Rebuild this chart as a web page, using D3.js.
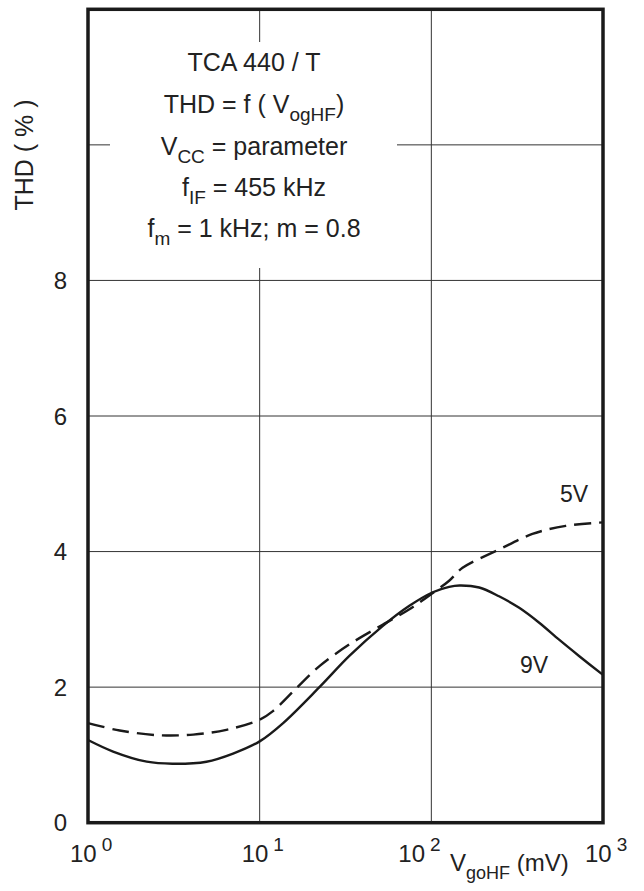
<!DOCTYPE html>
<html>
<head>
<meta charset="utf-8">
<script src="https://cdn.jsdelivr.net/npm/d3@7"></script>
<style>
  body { margin: 0; background: #fff; }
  svg { font-family: "Liberation Sans", Arial, sans-serif; fill: #222; }
  .grid { stroke: #333; stroke-width: 1; }
  .curve { fill: none; stroke: #1a1a1a; stroke-width: 2.4; }
</style>
</head>
<body>
<svg width="644" height="891"></svg>
<script>
// 9V curve (solid): input voltage in mV, THD in %
const v9 = [1, 1.4, 2.2, 3.1, 4.9, 7, 10, 13.7, 22.3, 33.3, 52, 74.5, 102, 127, 146, 190, 248, 325, 425, 555, 725, 1000];
const thd9 = [1.22, 1.05, 0.90, 0.87, 0.90, 1.02, 1.20, 1.47, 2.0, 2.46, 2.90, 3.20, 3.40, 3.48, 3.50, 3.47, 3.34, 3.17, 2.95, 2.70, 2.46, 2.18];

// 5V curve (dashed)
const v5 = [1, 1.53, 2.6, 4.1, 6.4, 10, 12, 16.3, 22.3, 33.3, 52, 74.5, 102, 127, 152, 248, 388, 607, 1000];
const thd5 = [1.47, 1.36, 1.29, 1.30, 1.37, 1.52, 1.65, 1.98, 2.31, 2.63, 2.92, 3.15, 3.39, 3.57, 3.76, 4.03, 4.26, 4.38, 4.43];

const yTicks = [0, 2, 4, 6, 8];
const yGrid = [2, 4, 6, 8, 10];
const xDecades = [1, 10, 100, 1000];
const xExp = ["0", "1", "2", "3"];

const svg = d3.select("svg");

const x = d3.scaleLog().domain([1, 1000]).range([88, 603]);
const y = d3.scaleLinear().domain([0, 12]).range([822.7, 9.3]);

// grid
svg.selectAll(".vgrid")
  .data([10, 100])
  .enter().append("line")
  .attr("class", "grid")
  .attr("x1", d => x(d)).attr("x2", d => x(d))
  .attr("y1", y(12)).attr("y2", y(0));

svg.selectAll(".hgrid")
  .data(yGrid)
  .enter().append("line")
  .attr("class", "grid")
  .attr("x1", x(1)).attr("x2", x(1000))
  .attr("y1", d => y(d)).attr("y2", d => y(d));

// white box behind the annotation
svg.append("rect")
  .attr("x", 110).attr("y", 42)
  .attr("width", 287).attr("height", 226)
  .attr("fill", "#fff");

// curves
const line = d3.line()
  .x(d => x(d[0]))
  .y(d => y(d[1]))
  .curve(d3.curveCatmullRom.alpha(0.5));

svg.append("path")
  .attr("class", "curve")
  .attr("d", line(d3.zip(v9, thd9)));

svg.append("path")
  .attr("class", "curve")
  .attr("stroke-dasharray", "17,8")
  .attr("d", line(d3.zip(v5, thd5)));

// frame
svg.append("rect")
  .attr("x", x(1)).attr("y", y(12))
  .attr("width", x(1000) - x(1)).attr("height", y(0) - y(12))
  .attr("fill", "none")
  .attr("stroke", "#1a1a1a")
  .attr("stroke-width", 3.5);

// y tick labels
svg.selectAll(".ylab")
  .data(yTicks)
  .enter().append("text")
  .attr("x", 67)
  .attr("y", d => y(d))
  .attr("dy", "0.36em")
  .attr("text-anchor", "end")
  .attr("font-size", 24)
  .text(d => d);

// x tick labels, 10^n
const xl = svg.selectAll(".xlab")
  .data(xDecades)
  .enter().append("text")
  .attr("x", (d, i) => x(d) - (i === 2 ? 33 : 18))
  .attr("y", 862)
  .attr("font-size", 24);
xl.append("tspan").text("10");
xl.append("tspan")
  .attr("dx", 5)
  .attr("dy", -11)
  .attr("font-size", 19)
  .text((d, i) => xExp[i]);

// axis titles
const xt = svg.append("text")
  .attr("x", 450).attr("y", 871)
  .attr("font-size", 24);
xt.append("tspan").text("V");
xt.append("tspan").attr("dy", 8).attr("font-size", 18).text("goHF");
xt.append("tspan").attr("dy", -8).text(" (mV)");

svg.append("text")
  .attr("transform", "translate(33,155) rotate(-90)")
  .attr("text-anchor", "middle")
  .attr("font-size", 25)
  .text("THD ( % )");

// series labels
svg.append("text").attr("x", 560).attr("y", 502).attr("font-size", 23).text("5V");
svg.append("text").attr("x", 520).attr("y", 673).attr("font-size", 23).text("9V");

// annotation
const cx = 254;
const ann = [
  { y: 71, parts: [["TCA 440 / T", 0]] },
  { y: 113, parts: [["THD = f ( V", 0], ["ogHF", 1], [")", 0]] },
  { y: 155, parts: [["V", 0], ["CC", 1], [" = parameter", 0]] },
  { y: 196, parts: [["f", 0], ["IF", 1], [" = 455 kHz", 0]] },
  { y: 237, parts: [["f", 0], ["m", 1], [" = 1 kHz; m = 0.8", 0]] }
];

ann.forEach(a => {
  const t = svg.append("text")
    .attr("x", cx).attr("y", a.y)
    .attr("text-anchor", "middle")
    .attr("font-size", 25);
  let prevSub = 0;
  a.parts.forEach(p => {
    const ts = t.append("tspan").text(p[0]);
    if (p[1] !== prevSub) ts.attr("dy", p[1] ? 8 : -8);
    if (p[1]) ts.attr("font-size", 19);
    prevSub = p[1];
  });
});
</script>
</body>
</html>
